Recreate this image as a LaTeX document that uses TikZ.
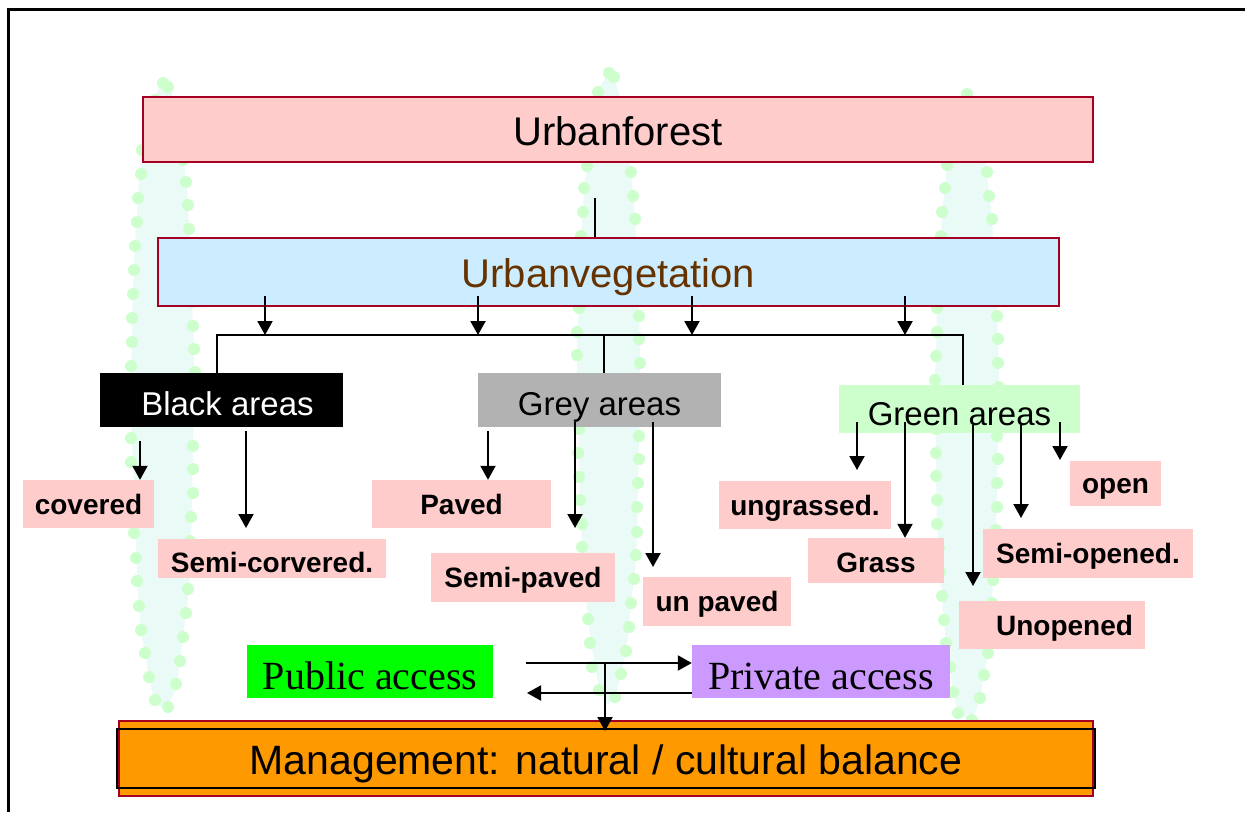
\documentclass[tikz,border=0pt]{standalone}
\usepackage{fontspec}
\setmainfont{Liberation Sans}
\newfontfamily\tnr{Liberation Serif}
\usetikzlibrary{arrows.meta}
\definecolor{pinkfill}{HTML}{FFCCCC}
\definecolor{boxred}{HTML}{A50021}
\definecolor{bluefill}{HTML}{CCECFF}
\definecolor{browntext}{HTML}{663300}
\definecolor{greyfill}{HTML}{B2B2B2}
\definecolor{greenfill}{HTML}{CCFFCC}
\definecolor{pubgreen}{HTML}{00FF00}
\definecolor{privpurple}{HTML}{CC99FF}
\definecolor{mgmtorange}{HTML}{FF9900}
\definecolor{colfill}{HTML}{EAFAF6}
\definecolor{dotgreen}{HTML}{CCFFCC}
\tikzset{
  bigbox/.style={draw=boxred, line width=1.6pt, inner sep=0pt, anchor=center, text depth=0pt},
  areabox/.style={inner sep=0pt, anchor=center, font=\fontsize{33}{38}\selectfont, text depth=0pt, text height=30.6pt},
  leaf/.style={fill=pinkfill, inner sep=0pt, anchor=center, font=\fontsize{28}{33}\selectfont\bfseries, text depth=0pt, text height=20pt},
  accessbox/.style={inner sep=0pt, anchor=center, font=\tnr\fontsize{40}{46}\selectfont, text depth=0pt, text height=36.5pt},
  arr/.style={line width=2pt, -{Triangle[length=14pt,width=15pt]}},
  ln/.style={line width=2pt},
  colshape/.style={fill=colfill},
  coldot/.style={fill=dotgreen},
}
\begin{document}
\begin{tikzpicture}[x=1pt,y=-1pt]
\useasboundingbox (0,0) rectangle (1245,812);

% ---------- background columns ----------
\fill[colshape] plot[smooth] coordinates {(163,80) (150,110) (142,150) (138,198) (135,246) (133,294) (132,342) (131,400) (132,440) (134,490) (136,540) (138,590) (141,630) (145,653) (149,677) (155,700) (165,709)}
  -- plot[smooth] coordinates {(176,690) (180,661) (183,637) (186,613) (189,589) (191,540) (192,494) (193,445) (194,400) (194,349) (193,326) (190,260) (188,205) (186,182) (180,130) (170,86)} -- cycle;
\fill[colshape] plot[smooth] coordinates {(609,72) (598,92) (590,130) (587,166) (584,188) (583,212) (581,236) (579,308) (577,332) (577,360) (578,400) (579,453) (580,500) (582,547) (585,585) (588,619) (591,640) (595,665) (600,690) (608,705)}
  -- plot[smooth] coordinates {(615,697) (621,674) (626,651) (629,627) (631,603) (634,579) (636,555) (637,532) (638,483) (639,436) (640,363) (639,316) (635,219) (633,196) (631,172) (625,120) (614,77)} -- cycle;
\fill[colshape] plot[smooth] coordinates {(967,92) (955,120) (947,165) (945,188) (942,212) (941,236) (937,308) (936,356) (935,380) (936,453) (937,524) (942,596) (944,620) (946,643) (950,667) (953,692) (958,713)}
  -- plot[smooth] coordinates {(972,722) (980,698) (984,675) (988,653) (992,603) (993,580) (996,530) (997,483) (998,436) (999,387) (998,339) (997,316) (992,219) (989,196) (987,172) (980,125) (970,94)} -- cycle;

\foreach \p in {(163,83),(155,100),(142,150),(141,174),(138,198),(137,222),(135,246),(134,270),(133,294),(132,318),(132,342),(131,366),(131,390),(131,414),(131,438),(131,462),(133,486),(134,510),(134,533),(136,558),(137,581),(139,606),(141,630),(145,653),(149,677),(155,700),
  (168,87),(178,115),(183,160),(186,182),(188,205),(189,229),(190,253),(191,278),(192,302),(193,326),(194,349),(195,372),(194,397),(193,421),(193,446),(193,469),(193,493),(191,517),(190,541),(189,565),(188,589),(186,613),(183,637),(180,661),(176,684),(168,707),
  (609,73),(598,92),(590,130),(587,166),(584,188),(583,212),(581,236),(580,260),(580,284),(579,308),(577,332),(577,355),(577,380),(578,405),(579,429),(578,453),(579,477),(580,500),(582,524),(582,547),(585,572),(587,596),(588,619),(590,643),(592,667),(599,690),
  (614,77),(622,110),(628,148),(631,172),(633,196),(635,219),(636,243),(637,268),(638,292),(639,316),(639,339),(640,363),(640,388),(639,412),(639,436),(639,459),(638,483),(637,507),(637,532),(636,555),(634,579),(631,603),(629,627),(626,651),(621,674),(615,697),
  (967,94),(955,125),(947,165),(945,188),(942,212),(941,236),(939,260),(938,284),(937,308),(937,332),(936,356),(935,380),(935,404),(936,429),(936,453),(936,476),(937,500),(937,524),(939,548),(940,572),(942,596),(944,620),(946,643),(950,667),(953,692),(958,713),
  (975,105),(983,140),(987,172),(989,196),(992,219),(994,243),(995,268),(996,292),(997,316),(998,339),(998,363),(999,387),(998,412),(997,436),(998,459),(997,483),(997,507),(996,530),(995,555),(993,580),(992,603),(990,628),(988,653),(984,675),(980,698),(972,720)}
  \fill[coldot] \p circle (6pt);

% ---------- frame ----------
\draw[line width=3pt] (8,812) -- (8,9) -- (1245,9);

% ---------- main boxes ----------
\node[bigbox, fill=pinkfill, minimum width=950pt, minimum height=65pt, font=\fontsize{40}{46}\selectfont, text height=32.6pt] (uf) at (618,129.5) {Urbanforest};
\node[bigbox, fill=bluefill, minimum width=901pt, minimum height=68pt, font=\fontsize{40}{46}\selectfont, text=browntext, text height=30.6pt] (uv) at (608.5,272) {Urbanvegetation};

\node[areabox, fill=black, text=white, minimum width=243pt, minimum height=54pt] (black) at (221.5,400) {\hspace*{12pt}Black areas};
\node[areabox, fill=greyfill, minimum width=243pt, minimum height=54pt] (grey) at (599.5,400) {Grey areas};
\node[areabox, fill=greenfill, minimum width=241pt, minimum height=48pt, text height=32.6pt] (green) at (959.5,409) {Green areas};

% ---------- leaves ----------
\node[leaf, minimum width=131pt, minimum height=48pt] (covered) at (88.5,504) {covered};
\node[leaf, minimum width=228pt, minimum height=39pt, text height=28pt] (semicov) at (272,558.5) {Semi-corvered.};
\node[leaf, minimum width=179pt, minimum height=48pt] (paved) at (461.5,504) {Paved};
\node[leaf, minimum width=184pt, minimum height=49pt] (semipav) at (523,577.5) {Semi-paved};
\node[leaf, minimum width=148pt, minimum height=49pt] (unpav) at (717,601.5) {un paved};
\node[leaf, minimum width=172pt, minimum height=48pt] (ungr) at (805,505) {ungrassed.};
\node[leaf, minimum width=136pt, minimum height=45pt, text height=24pt] (grass) at (876,560.5) {Grass};
\node[leaf, minimum width=91pt, minimum height=45pt] (open) at (1115.5,483.5) {open};
\node[leaf, minimum width=210pt, minimum height=49pt] (semiop) at (1088,553.5) {Semi-opened.};
\node[leaf, minimum width=186pt, minimum height=48pt] (unop) at (1052,625) {\hspace*{25pt}Unopened};

% ---------- access and management ----------
\node[accessbox, fill=pubgreen, minimum width=246pt, minimum height=53pt] (pub) at (370,671.5) {Public access};
\node[accessbox, fill=privpurple, minimum width=258pt, minimum height=53pt] (priv) at (821,671.5) {Private access};
\node[bigbox, fill=mgmtorange, minimum width=974pt, minimum height=75pt, font=\fontsize{41}{47}\selectfont, text height=31.4pt] (mgmt) at (606,758.5) {Management: natural / cultural balance};
\node[draw=black, line width=2.5pt, inner sep=0pt, minimum width=978pt, minimum height=59pt] (mgmtframe) at (606,758.5) {};

% ---------- connectors ----------
\coordinate (ufs) at (595,198);
\draw[ln] (ufs) -- (ufs |- uv.north);

\coordinate (barL) at (217,335);
\coordinate (barM) at (604,335);
\coordinate (barR) at (963,335);
\draw[ln] (barL |- black.north) -- (barL) -- (barR) -- (barR |- green.north);
\draw[ln] (barM) -- (barM |- grey.north);
\foreach \x [count=\i] in {265,478,692,905} {
  \coordinate (uva\i) at (\x,296);
  \draw[arr] (uva\i) -- (uva\i |- barL);
}

% black areas
\coordinate (b1) at (140,441);
\draw[arr] (b1) -- (b1 |- covered.north);
\coordinate (b2) at (246,431);
\coordinate (b2e) at (246,528);
\draw[arr] (b2) -- (b2e);
% grey areas
\coordinate (g1) at (488,431);
\draw[arr] (g1) -- (g1 |- paved.north);
\coordinate (g2) at (575,422);
\coordinate (g2e) at (575,528);
\draw[arr] (g2) -- (g2e);
\coordinate (g3) at (653,422);
\coordinate (g3e) at (653,567);
\draw[arr] (g3) -- (g3e);
% green areas
\coordinate (n1) at (857,422);
\coordinate (n1e) at (857,470);
\draw[arr] (n1) -- (n1e);
\coordinate (n2) at (905,422);
\draw[arr] (n2) -- (n2 |- grass.north);
\coordinate (n3) at (973,425);
\coordinate (n3e) at (973,586);
\draw[arr] (n3) -- (n3e);
\coordinate (n4) at (1021,425);
\coordinate (n4e) at (1021,518);
\draw[arr] (n4) -- (n4e);
\coordinate (n5) at (1060,422);
\coordinate (n5e) at (1060,460);
\draw[arr] (n5) -- (n5e);

% access arrows
\coordinate (pa1) at (526,663);
\draw[arr] (pa1) -- (pa1 -| priv.west);
\coordinate (pa2) at (527,693);
\draw[arr] (pa2 -| priv.west) -- (pa2);
\coordinate (pa3) at (605,663);
\coordinate (mtip) at (605,731);
\draw[arr] (pa3) -- (mtip);
\end{tikzpicture}
\end{document}
